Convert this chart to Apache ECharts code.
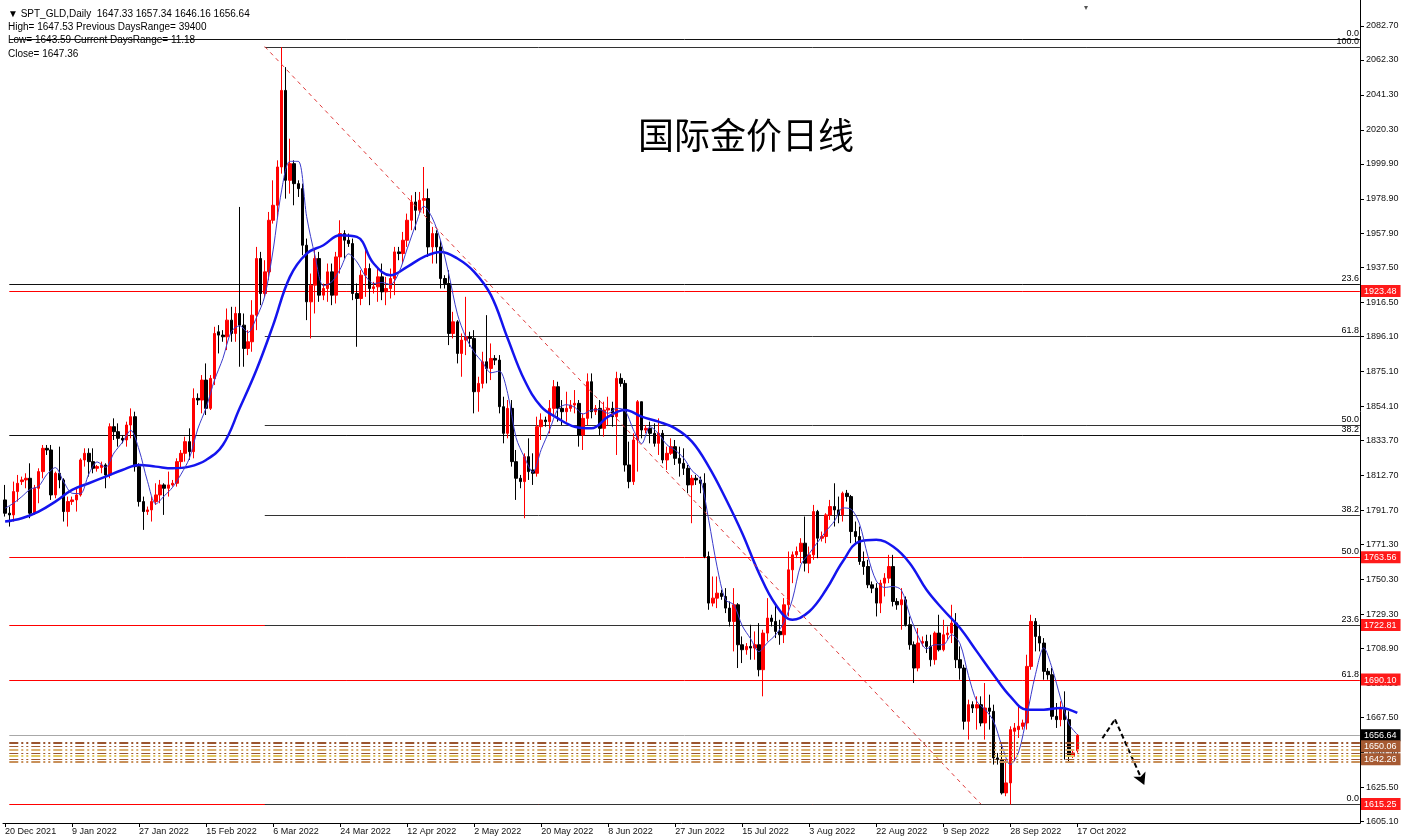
<!DOCTYPE html>
<html><head><meta charset="utf-8">
<script src="https://cdn.jsdelivr.net/npm/echarts@6/dist/echarts.min.js"></script>
<style>html,body{margin:0;padding:0;background:#fff;}#c{width:1402px;height:840px;}</style>
</head><body><div id="c"></div>
<script>
// ---------- DATA ----------
const opens=[1798,1790,1789,1803,1809,1810,1811,1790,1805,1815,
1829,1828,1801,1814,1810,1791,1797,1798,1801,1822,
1826,1821,1817,1817.5,1819,1813,1842,1839,1835,1834,
1843,1848,1818,1797,1791,1792,1797,1801,1807,1805,
1807,1808,1821,1826,1833,1827,1859,1858,1870,1853,
1871,1899,1897,1896,1906,1898,1910,1903,1889,1893,
1909,1943,1922,1935,1966,1975,1998,2044,1990,2000,
1988,1985,1951,1917,1927,1943,1921,1925,1935,1921,
1944,1958,1954,1952,1922,1919,1933,1937,1925,1926,
1932,1923,1925,1931,1947,1946,1954,1966,1977,1972,
1978,1979,1950,1958,1950,1931,1928,1898,1905,1886,
1894,1896,1895,1863,1868,1881,1877,1883,1882,1854,
1838,1853,1821,1811,1809,1824,1816,1814,1842,1846,
1845,1853,1866,1853,1851,1853,1855,1856,1837,1847,
1869,1851,1853,1841,1852,1853,1848,1871,1868,1819,
1809,1834,1857,1840,1841,1838,1832,1838,1822,1826,
1830,1823,1820,1817,1807,1811,1810,1808,1764,1736,
1739,1742,1740,1733,1725,1735,1711,1708,1710,1709,
1711,1696,1718,1727,1725,1719,1717,1735,1756,1765,
1767,1772,1760,1765,1791,1775,1776,1789,1794,1792,
1789,1802,1800,1779,1776,1761,1758,1747,1745,1736,
1748,1751,1758,1737,1735,1738,1723,1711,1697,1712,
1713,1710,1702,1718,1708,1717,1718,1724,1702,1697,
1665,1675,1673,1675,1664,1673,1671,1643,1642,1622,
1628,1659,1660,1662,1664,1698,1725,1716,1712,1695,
1693,1668,1666,1673,1666,1644,1647.33];
const closes=[1790,1789,1803,1808,1810,1811,1790,1805,1815,1829,
1828,1801,1814,1810,1791,1797,1798,1801,1822,1826,
1821,1817,1818,1819,1813,1842,1839,1835,1834,1843,
1848,1818,1797,1791,1792,1797,1801,1807,1805,1807,
1808,1821,1826,1833,1827,1859,1858,1870,1853,1871,
1898,1897,1896,1906,1898,1910,1903,1889,1893,1909,
1943,1922,1935,1966,1975,1998,2044,1990,2000,1988,
1985,1951,1917,1927,1943,1921,1925,1935,1921,1944,
1958,1954,1952,1922,1919,1933,1937,1925,1926,1932,
1923,1925,1931,1947,1946,1954,1966,1977,1972,1978,
1979,1950,1958,1950,1931,1928,1898,1905,1886,1894,
1896,1895,1863,1868,1881,1877,1883,1882,1854,1838,
1853,1821,1811,1809,1824,1815,1814,1842,1846,1845,
1853,1866,1853,1851,1853,1855,1856,1837,1847,1869,
1851,1853,1841,1852,1853,1848,1871,1868,1819,1809,
1834,1857,1840,1841,1838,1832,1838,1822,1826,1830,
1823,1820,1817,1807,1811,1810,1808,1764,1736,1739,
1742,1740,1733,1725,1735,1711,1708,1710,1709,1711,
1696,1718,1727,1725,1719,1717,1735,1756,1765,1767,
1772,1760,1765,1791,1775,1776,1789,1794,1792,1789,
1802,1800,1779,1776,1761,1758,1747,1745,1736,1748,
1751,1758,1737,1735,1738,1723,1711,1697,1712,1713,
1710,1702,1718,1708,1717,1718,1724,1702,1697,1665,
1675,1673,1675,1664,1673,1671,1643,1642,1622,1628,
1660,1661,1662,1664,1698,1725,1716,1712,1695,1693,
1668,1666,1673,1666,1644,1646,1656.64];
const lows=[1788,1782,1785,1797,1807,1805,1787,1789,1796,1811,
1825,1798,1799,1805,1785,1782,1795,1791,1800,1818,
1812,1814,1815,1814,1805,1811,1834,1830,1832,1830,
1835,1815,1794,1780,1789,1785,1795,1796,1789,1800,
1806,1806,1817,1821,1822,1823,1855,1850,1849,1852,
1867,1886,1893,1888,1893,1893,1878,1878,1885,1887,
1900,1915,1920,1930,1964,1968,1994,1979,1982,1975,
1980,1945,1906,1895,1910,1917,1918,1917,1915,1916,
1934,1943,1950,1918,1890,1915,1920,1915,1922,1917,
1918,1915,1919,1921,1942,1940,1950,1960,1960,1970,
1970,1944,1940,1940,1925,1925,1891,1895,1880,1872,
1885,1890,1850,1851,1865,1868,1870,1879,1850,1832,
1835,1818,1798,1805,1787,1810,1807,1812,1834,1842,
1838,1848,1845,1843,1845,1851,1850,1830,1828,1843,
1847,1849,1837,1836,1843,1842,1825,1866,1815,1805,
1807,1815,1835,1838,1832,1830,1825,1820,1816,1825,
1819,1812,1813,1802,1784,1807,1802,1763,1732,1734,
1733,1738,1730,1722,1707,1697,1700,1705,1702,1702,
1692,1680,1713,1722,1715,1711,1712,1728,1748,1763,
1760,1755,1754,1762,1763,1773,1772,1786,1782,1784,
1785,1797,1772,1771,1759,1753,1745,1742,1728,1730,
1740,1748,1734,1732,1720,1722,1708,1688,1695,1710,
1706,1698,1699,1707,1707,1714,1712,1697,1690,1660,
1654,1670,1660,1662,1654,1660,1639,1639,1621,1620,
1615,1641,1655,1660,1660,1696,1707,1707,1690,1690,
1666,1661,1662,1642,1641,1643,1646.16];
const highs=[1807,1794,1809,1813,1812,1814,1820,1807,1817,1831,
1831,1831,1815,1830,1811,1800,1800,1805,1823,1829,
1829,1829,1819,1821,1820,1844,1847,1844,1837,1845,
1853,1851,1820,1800,1794,1800,1808,1810,1808,1815,
1810,1823,1828,1836,1841,1865,1862,1873,1880,1873,
1902,1903,1900,1913,1914,1914,1974,1910,1900,1918,
1950,1947,1942,1971,1990,2002,2070,2058,2015,2002,
1990,1988,1955,1934,1949,1947,1928,1940,1940,1947,
1966,1960,1958,1955,1928,1936,1950,1940,1929,1937,
1940,1932,1937,1950,1950,1959,1970,1981,1983,1983,
1998,1985,1962,1960,1954,1933,1936,1911,1906,1898,
1920,1899,1900,1872,1887,1909,1892,1885,1885,1860,
1858,1858,1828,1813,1826,1835,1826,1848,1850,1848,
1858,1870,1869,1858,1863,1858,1864,1858,1850,1874,
1874,1855,1858,1857,1860,1857,1875,1874,1870,1833,
1838,1858,1857,1843,1845,1844,1847,1840,1830,1835,
1834,1830,1829,1819,1813,1813,1812,1814,1767,1752,
1752,1744,1745,1737,1745,1736,1716,1712,1723,1719,
1724,1720,1739,1729,1736,1726,1739,1767,1767,1770,
1775,1788,1770,1795,1792,1779,1790,1798,1808,1800,
1803,1804,1801,1785,1782,1767,1762,1749,1748,1750,
1754,1765,1765,1739,1745,1740,1728,1713,1721,1716,
1717,1717,1719,1729,1726,1722,1735,1730,1710,1699,
1678,1677,1680,1680,1688,1681,1675,1646,1652,1642,
1662,1664,1675,1666,1705,1729,1727,1723,1715,1697,
1697,1676,1677,1683,1671,1648,1657.34];

// moving averages: [bar index, value]
const maSlow=[[0,1785],[4,1787],[8,1791],[12,1797],[16,1804],[20,1808],[24,1812],[28,1816],[32,1819],[36,1818],[40,1817],[44,1818],[48,1822],[52,1831],[56,1853],[60,1876],[64,1903],[68,1932],[72,1946],[76,1951],[80,1957],[84,1956],[88,1940],[92,1933],[96,1938],[100,1944],[104,1947],[108,1943],[112,1935],[116,1921],[120,1895],[124,1870],[128,1854],[132,1847],[136,1842],[140,1841],[144,1848],[148,1852],[152,1848],[156,1845],[160,1841],[164,1833],[168,1818],[172,1799],[176,1778],[180,1754],[184,1735],[188,1726],[192,1731],[196,1744],[200,1761],[204,1773],[208,1774],[212,1770],[216,1760],[220,1744],[224,1732],[228,1721],[232,1707],[236,1693],[240,1680],[244,1672],[248,1672],[252,1673],[256,1670]];
const maFast=[[0,1793],[2,1796],[4,1800],[6,1804.4],[8,1806.2],[10,1813.4],[12,1817.4],[14,1808.8],[16,1802],[18,1801.8],[20,1813.6],[22,1820.8],[24,1817.6],[26,1826.2],[28,1832.6],[30,1839.8],[32,1828],[34,1809.2],[36,1795.6],[38,1800.4],[40,1805.6],[42,1813.4],[44,1823],[46,1840.6],[48,1853.4],[50,1870],[52,1883],[54,1899],[56,1902.6],[58,1898.6],[60,1907.4],[62,1920.4],[64,1948.2],[66,1983.6],[68,2001.4],[70,2001.4],[72,1968.2],[74,1944.6],[76,1926.6],[78,1929],[80,1936.6],[82,1945.8],[84,1941],[86,1932.6],[88,1928],[90,1928.6],[92,1927.4],[94,1934.4],[96,1948.8],[98,1963],[100,1974.4],[102,1967.4],[104,1953.6],[106,1933],[108,1909.6],[110,1895.8],[112,1886.8],[114,1880.6],[116,1874.4],[118,1875.4],[120,1862],[122,1835.4],[124,1823.6],[126,1814.6],[128,1828.2],[130,1840],[132,1852.6],[134,1855.2],[136,1853.6],[138,1849.6],[140,1852],[142,1852.2],[144,1850],[146,1853],[148,1851.8],[150,1840.2],[152,1831.8],[154,1842],[156,1837.8],[158,1831.2],[160,1827.8],[162,1823.2],[164,1815.6],[166,1810.6],[168,1785.8],[170,1757.8],[172,1738],[174,1735],[176,1722.4],[178,1714.6],[180,1706.8],[182,1712.2],[184,1717],[186,1724.6],[188,1738.4],[190,1759],[192,1765.8],[194,1772.6],[196,1779.2],[198,1785.2],[200,1793.2],[202,1792.4],[204,1783.6],[206,1764.2],[208,1749.4],[210,1745.4],[212,1746],[214,1743.8],[216,1728.8],[218,1716.2],[220,1708.6],[222,1711],[224,1711],[226,1717],[228,1711.6],[230,1692.6],[232,1677],[234,1672],[236,1665.2],[238,1650.2],[240,1639],[242,1646.6],[244,1669],[246,1693],[248,1709.2],[250,1696.8],[252,1679],[254,1663.4],[256,1657.1]];

const priceTicks=[2082.70,2062.30,2041.30,2020.30,1999.90,1978.90,1957.90,1937.50,1916.50,1896.10,1875.10,1854.10,1833.70,1812.70,1791.70,1771.30,1750.30,1729.30,1708.90,1687.90,1667.50,1646.50,1625.50,1605.10];
const priceBoxes=[1923.48,1763.56,1722.81,1690.10,1656.64,1650.06,1642.26,1615.25];
const priceBoxKind=['red','red','red','red','blk','brn','brn','red'];

// Fibonacci / level lines
const fibAValues=[2074.9,1927.7,1837.0,1763.56,1690.10];   // full-width object
const fibALabels=['0.0','23.6','38.2','50.0','61.8'];
const fibAColors=['#111111','#111111','#111111','#ff0000','#ff0000'];
const fibBValues=[2070.35,1896.3,1842.8,1789.1,1722.65,1615.25]; // drawn from the March top
const fibBLabels=['100.0','61.8','50.0','38.2','23.6','0.0'];
const redLevels=[1923.48,1722.81,1615.25];
const lastPrice=1656.64;
const zoneLevels=[1651.9,1650.06,1648.0,1645.9,1644.0,1642.26,1640.6];
const zoneColors=['#9a5530','#a05a32','#d9b070','#9a5530','#e0c860','#a05a32','#c8905a'];
const trendStart=[62,2070.35], trendEnd=[233,1615.25];
const arrowPath=[[262,1654.8],[265,1666.2],[272,1626.7]];
const headerLines=['\u25BC SPT_GLD,Daily  1647.33 1657.34 1646.16 1656.64','High= 1647.53 Previous DaysRange= 39400','Low= 1643.59 Current DaysRange= 11.18','Close= 1647.36'];
const titleText='国际金价日线';

// ---------- categories ----------
const closedDays=['2021-12-24','2022-04-15'];
const MONTHS=['Jan','Feb','Mar','Apr','May','Jun','Jul','Aug','Sep','Oct','Nov','Dec'];
const dates=[];
for(let t=Date.UTC(2021,11,20); dates.length<closes.length; t+=86400000){
  const d=new Date(t); const iso=d.toISOString().slice(0,10);
  if(d.getUTCDay()===6||closedDays.includes(iso)) continue;
  dates.push(d.getUTCDate()+' '+MONTHS[d.getUTCMonth()]+' '+d.getUTCFullYear());
}
const SLOTS=324;
const cats=dates.slice();
for(let i=dates.length;i<SLOTS;i++) cats.push('+'+i);
const LAST=SLOTS-1;
const LEFT_EDGE=0.7;   // full-width lines start at the chart's left frame
const candles=opens.map((o,i)=>[o,closes[i],lows[i],highs[i]]);

// ---------- horizontal level rows (drawn crisp through a custom series) ----------
const FONT='Liberation Sans, Arial, sans-serif';
const rows=[];
redLevels.forEach(v=>rows.push({from:LEFT_EDGE,to:LAST,v:v,c:'#ff0000',w:1}));
fibAValues.forEach((v,i)=>rows.push({from:LEFT_EDGE,to:LAST,v:v,c:fibAColors[i],w:1,t:fibALabels[i]}));
rows.push({from:LEFT_EDGE,to:LAST,v:lastPrice,c:'#a8a8a8',w:1});
fibBValues.forEach((v,i)=>rows.push({from:trendStart[0],to:LAST,v:v,c:'#333333',w:1,t:fibBLabels[i]}));
const zoneRows=zoneLevels.map((v,i)=>({from:LEFT_EDGE,to:LAST,v:v,c:zoneColors[i],w:(i%2===0?2:1),dash:[9,3,2,3,2,3]}));

function levelRenderer(list){
  return function(params,api){
    const L=list[params.dataIndex];
    const a=api.coord([api.value(0),api.value(2)]), b=api.coord([api.value(1),api.value(2)]);
    const y=(L.w%2===1)?Math.round(a[1])+0.5:Math.round(a[1]);
    const x0=a[0], x1=(L.to===LAST)?b[0]+2:b[0];
    const ch=[{type:'line',shape:{x1:x0,y1:y,x2:x1,y2:y},style:{stroke:L.c,lineWidth:L.w,lineDash:L.dash||null}}];
    if(L.t) ch.push({type:'text',x:x1-1,y:y-1,style:{text:L.t,fill:'#000',fontSize:9,fontFamily:FONT,align:'right',verticalAlign:'bottom'}});
    return {type:'group',children:ch};
  };
}
const levelSeries=(list,z)=>({type:'custom',silent:true,z:z,clip:false,
  data:list.map(L=>[L.from,L.to,L.v]),encode:{x:[0,1],y:2},renderItem:levelRenderer(list)});

const chart=echarts.init(document.getElementById('c'),null,{renderer:'canvas'});
chart.setOption({
  animation:false,
  backgroundColor:'#fff',
  grid:{left:3,right:42,top:0,bottom:17,containLabel:false,outerBoundsMode:'none'},
  xAxis:{type:'category',data:cats,boundaryGap:true,
    axisLine:{show:true,lineStyle:{color:'#000',width:1}},
    axisTick:{show:true,alignWithLabel:true,length:4,interval:(i)=>i%16===0&&i<dates.length,lineStyle:{color:'#000'}},
    axisLabel:{show:true,interval:(i)=>i%16===0&&i<dates.length,align:'left',margin:4,fontSize:9,color:'#111',fontFamily:FONT},
    splitLine:{show:false}},
  yAxis:[{type:'value',position:'right',min:1603.91,max:2098.32,scale:true,
    axisLine:{show:true,lineStyle:{color:'#000',width:1}},
    axisTick:{show:true,length:4,inside:false,customValues:priceTicks,lineStyle:{color:'#000'}},
    axisLabel:{show:true,customValues:priceTicks,margin:6,fontSize:9,color:'#111',fontFamily:FONT,formatter:(v)=>v.toFixed(2)},
    splitLine:{show:false}},
   {type:'value',position:'right',min:1603.91,max:2098.32,scale:true,z:5,
    axisLine:{show:false},axisTick:{show:false},splitLine:{show:false},
    axisLabel:{show:true,customValues:priceBoxes,margin:1,fontSize:9,fontFamily:FONT,
      formatter:(v)=>{let k=0,b=1e9;priceBoxes.forEach((p,i)=>{if(Math.abs(p-v)<b){b=Math.abs(p-v);k=i;}});return '{'+priceBoxKind[k]+'|'+v.toFixed(2)+'}';},
      rich:{red:{backgroundColor:'#ff1a1a',color:'#fff',padding:[2,4,1,3],fontSize:9,fontFamily:FONT},
            blk:{backgroundColor:'#000',color:'#fff',padding:[2,4,1,3],fontSize:9,fontFamily:FONT},
            brn:{backgroundColor:'#a65a32',color:'#fff',padding:[2,4,1,3],fontSize:9,fontFamily:FONT}}}}],
  series:[
    levelSeries(rows,1),
    {type:'line',name:'trend',data:[],silent:true,z:1,
     markLine:{silent:true,symbol:['none','none'],animation:false,label:{show:false},emphasis:{disabled:true},
       lineStyle:{color:'#e03a3a',width:1,type:[4,4]},data:[[{coord:trendStart},{coord:trendEnd}]]}},
    {type:'candlestick',name:'SPT_GLD',data:candles,barWidth:3,z:2,
     itemStyle:{color:'#ff0000',color0:'#000000',borderColor:'#ff0000',borderColor0:'#000000',borderWidth:1}},
    {type:'line',name:'MA slow',data:maSlow,smooth:0.4,showSymbol:false,symbol:'none',lineStyle:{color:'#1414ee',width:2.5},z:3},
    {type:'line',name:'MA fast',data:maFast,smooth:0.3,showSymbol:false,symbol:'none',lineStyle:{color:'#3a3acc',width:1},z:4},
    levelSeries(zoneRows,5),
    {type:'line',name:'arrow',data:[],silent:true,z:6,
     markLine:{silent:true,symbol:['none','none'],animation:false,label:{show:false},emphasis:{disabled:true},
       lineStyle:{color:'#000',width:2,type:[5,3]},
       data:[[{coord:arrowPath[0]},{coord:arrowPath[1]}],[{coord:arrowPath[1]},{coord:arrowPath[2],symbol:'arrow',symbolSize:[10,12]}]]}}
  ],
  graphic:[
    ...headerLines.map((t,i)=>({type:'text',left:8,top:9+i*13.3,style:{text:t,fontSize:10,fontFamily:FONT,fill:'#000'}})),
    {type:'text',left:638,top:117,style:{text:titleText,fontSize:36,fontFamily:'Noto Sans CJK SC',fill:'#000'}},
    {type:'text',left:1084,top:4,style:{text:'\u25BE',fontSize:8,fill:'#555'}}
  ]
});
</script></body></html>
